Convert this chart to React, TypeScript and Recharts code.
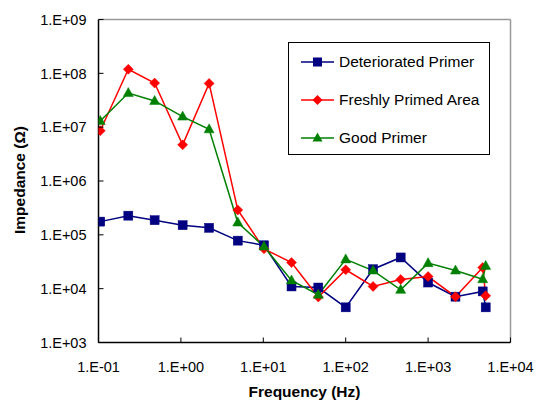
import React from 'react';
import { LineChart, Line, XAxis, YAxis, ReferenceLine, Label } from 'recharts';

const FREQ = [0.105, 0.23, 0.48, 1.05, 2.2, 4.9, 10.2, 22, 46.5, 100, 215, 465, 1000, 2150, 4600, 5000];
const DETERIORATED = [1.76e5, 2.27e5, 1.87e5, 1.51e5, 1.35e5, 7.8e4, 6.4e4, 1.1e4, 1.05e4, 4.5e3, 2.3e4, 3.8e4, 1.3e4, 7.1e3, 8.9e3, 4.5e3];
const FRESH = [8.6e6, 1.19e8, 6.6e7, 4.7e6, 6.5e7, 2.9e5, 5.5e4, 3.05e4, 7.0e3, 2.24e4, 1.1e4, 1.48e4, 1.68e4, 7.1e3, 2.47e4, 7.4e3];
const GOOD = [1.3e7, 4.3e7, 3.07e7, 1.57e7, 9.1e6, 1.69e5, 6.05e4, 1.42e4, 7.7e3, 3.5e4, 2.17e4, 9.5e3, 2.98e4, 2.17e4, 1.5e4, 2.65e4];
const X_TICKS = [0.1, 1, 10, 100, 1000, 10000];
const Y_TICKS = [1e3, 1e4, 1e5, 1e6, 1e7, 1e8, 1e9];
const SERIES_NAMES = ['Deteriorated Primer', 'Freshly Primed Area', 'Good Primer'];
const COLORS = ['#000080', '#FF0000', '#008000'];

const data = FREQ.map((f, i) => ({ freq: f, det: DETERIORATED[i], fresh: FRESH[i], good: GOOD[i] }));

const FONT = '"Liberation Sans", Arial, sans-serif';

const fmt = (v: number) => {
  const e = Math.round(Math.log10(v));
  return `1.E${e < 0 ? '-' : '+'}${String(Math.abs(e)).padStart(2, '0')}`;
};

const XTick = (props: any) => {
  const { x, y, payload } = props;
  return (
    <g>
      <line x1={x} y1={y} x2={x} y2={y - 5} stroke="#000" strokeWidth={1} />
      <text x={x} y={y + 29} textAnchor="middle" fontSize={14.5} fill="#000" fontFamily={FONT}>
        {fmt(payload.value)}
      </text>
    </g>
  );
};

const YTick = (props: any) => {
  const { x, y, payload } = props;
  return (
    <g>
      <line x1={x} y1={y} x2={x + 5} y2={y} stroke="#000" strokeWidth={1} />
      <text x={x - 12} y={y + 5.2} textAnchor="end" fontSize={14.5} fill="#000" fontFamily={FONT}>
        {fmt(payload.value)}
      </text>
    </g>
  );
};

const Square = (props: any) => {
  const { cx, cy } = props;
  if (cx == null || cy == null) return null;
  return <rect x={cx - 4.5} y={cy - 4.5} width={9} height={9} fill={COLORS[0]} stroke={COLORS[0]} strokeWidth={0.5} />;
};
const Diamond = (props: any) => {
  const { cx, cy } = props;
  if (cx == null || cy == null) return null;
  const r = 5;
  return <polygon points={`${cx},${cy - r} ${cx + r},${cy} ${cx},${cy + r} ${cx - r},${cy}`} fill={COLORS[1]} stroke={COLORS[1]} strokeWidth={0.5} />;
};
const Triangle = (props: any) => {
  const { cx, cy } = props;
  if (cx == null || cy == null) return null;
  return <polygon points={`${cx},${cy - 5.5} ${cx + 5},${cy + 3.5} ${cx - 5},${cy + 3.5}`} fill={COLORS[2]} stroke={COLORS[2]} strokeWidth={0.5} />;
};

const markerFor = (i: number) => {
  if (i === 0) return <rect x={12} y={-4.5} width={9} height={9} fill={COLORS[0]} />;
  if (i === 1) return <polygon points="16.5,-5 21.5,0 16.5,5 11.5,0" fill={COLORS[1]} />;
  return <polygon points="16.5,-5.5 21.5,3.5 11.5,3.5" fill={COLORS[2]} />;
};

const LegendBox = () => (
  <div
    style={{
      position: 'absolute',
      left: 288,
      top: 42,
      width: 202,
      height: 113,
      border: '1px solid #000',
      boxSizing: 'border-box',
      background: '#fff',
      fontFamily: FONT,
      fontSize: 15.5,
      color: '#000',
    }}
  >
    {SERIES_NAMES.map((name, i) => (
      <div key={name} style={{ position: 'absolute', left: 12, top: 19 + i * 37.8 - 10, height: 20, display: 'flex', alignItems: 'center' }}>
        <svg width={34} height={20} style={{ overflow: 'visible' }}>
          <g transform="translate(0,10)">
            <line x1={0} y1={0} x2={33} y2={0} stroke={COLORS[i]} strokeWidth={1.5} />
            {markerFor(i)}
          </g>
        </svg>
        <span style={{ marginLeft: 4, whiteSpace: 'nowrap', lineHeight: '20px' }}>{name}</span>
      </div>
    ))}
  </div>
);

export default function App() {
  return (
    <div style={{ position: 'absolute', left: 0, top: 0, width: 537, height: 400, background: '#fff' }}>
      <LineChart width={537} height={400} data={data} margin={{ top: 19.5, right: 26.5, bottom: 27.5, left: 0 }}>
        <XAxis
          dataKey="freq"
          type="number"
          scale="log"
          domain={[0.1, 10000]}
          ticks={X_TICKS}
          allowDataOverflow
          tick={<XTick />}
          tickSize={0}
          tickMargin={0}
          height={30}
          axisLine={{ stroke: '#000', strokeWidth: 1.5 }}
          tickLine={false}
          interval={0}
        >
          <Label
            content={() => (
              <text x={304.5} y={396.5} textAnchor="middle" fontSize={15.5} fontWeight="bold" fontFamily={FONT} fill="#000">
                Frequency (Hz)
              </text>
            )}
          />
        </XAxis>
        <YAxis
          type="number"
          scale="log"
          domain={[1e3, 1e9]}
          ticks={Y_TICKS}
          allowDataOverflow
          width={98.5}
          tick={<YTick />}
          tickSize={0}
          tickMargin={0}
          axisLine={{ stroke: '#000', strokeWidth: 1.5 }}
          tickLine={false}
          interval={0}
        >
          <Label
            content={() => (
              <text
                x={24.5}
                y={180}
                transform="rotate(-90, 24.5, 180)"
                textAnchor="middle"
                fontSize={15.5}
                fontWeight="bold"
                fontFamily={FONT}
                fill="#000"
              >
                Impedance (Ω)
              </text>
            )}
          />
        </YAxis>
        <ReferenceLine y={1e9} stroke="#999" strokeWidth={1.5} />
        <ReferenceLine x={10000} stroke="#999" strokeWidth={1.5} />
        <Line dataKey="det" name={SERIES_NAMES[0]} stroke={COLORS[0]} strokeWidth={1.5} dot={<Square />} isAnimationActive={false} />
        <Line dataKey="fresh" name={SERIES_NAMES[1]} stroke={COLORS[1]} strokeWidth={1.5} dot={<Diamond />} isAnimationActive={false} />
        <Line dataKey="good" name={SERIES_NAMES[2]} stroke={COLORS[2]} strokeWidth={1.5} dot={<Triangle />} isAnimationActive={false} />
      </LineChart>
      <LegendBox />
    </div>
  );
}
